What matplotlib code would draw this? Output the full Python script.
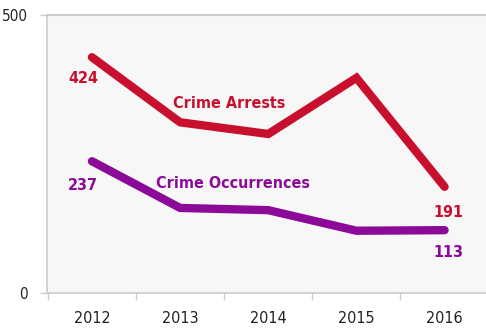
import matplotlib
matplotlib.use("Agg")
import matplotlib.pyplot as plt

years = ["2012", "2013", "2014", "2015", "2016"]
arrests = [424, 307, 286, 387, 191]
occurrences = [237, 153, 149, 112, 113]
series_names = ["Crime Arrests", "Crime Occurrences"]

plt.rcParams['font.family'] = ['DejaVu Sans']
plt.rcParams['font.stretch'] = 'condensed'

red = "#c8102e"
purple = "#8b0a98"

fig = plt.figure(figsize=(4.86, 3.29), dpi=100)
ax = fig.add_axes([47/486, 36/329, 1 - 47/486, (293-15)/329])
ax.set_facecolor("#f7f7f7")
x = list(range(len(years)))
ax.plot(x, arrests, color=red, lw=6, solid_capstyle='round', solid_joinstyle='miter')
ax.plot(x, occurrences, color=purple, lw=6, solid_capstyle='round', solid_joinstyle='miter')

ax.set_xlim(-0.51, 4.47)
ax.set_ylim(0, 500)
ax.set_yticks([0, 500])
ax.set_xticks(x)
ax.set_xticklabels(years)
ax.set_xticks([i - 0.5 for i in range(len(years))], minor=True)
ax.tick_params(axis='x', which='major', length=0, pad=13, labelsize=11.5)
ax.tick_params(axis='x', which='minor', length=5, color="#cccccc", width=1)
ax.tick_params(axis='y', length=5, color="#cccccc", width=1, labelsize=11, pad=9)
for lab in ax.get_xticklabels() + ax.get_yticklabels():
    lab.set_color("#222222")
ax.axhline(500, color="#cccccc", lw=1.5, clip_on=False)
for s in ["top", "right"]:
    ax.spines[s].set_visible(False)
for s in ["left", "bottom"]:
    ax.spines[s].set_color("#cccccc")
    ax.spines[s].set_linewidth(1.2)

kw = dict(fontsize=11.5, fontweight='bold', ha='center', va='center', textcoords='offset pixels')
ax.annotate(str(arrests[0]), (0, arrests[0]), xytext=(-9, -21), color=red, **kw)
ax.annotate(str(occurrences[0]), (0, occurrences[0]), xytext=(-9, -24), color=purple, **kw)
ax.annotate(str(arrests[4]), (4, arrests[4]), xytext=(4, -26), color=red, **kw)
ax.annotate(str(occurrences[4]), (4, occurrences[4]), xytext=(4, -22), color=purple, **kw)
ax.text(1.56, 340, series_names[0], color=red, fontsize=11.5, fontweight='bold', ha='center', va='center')
ax.text(1.60, 197, series_names[1], color=purple, fontsize=11.5, fontweight='bold', ha='center', va='center')

fig.savefig("out.png", dpi=100)
